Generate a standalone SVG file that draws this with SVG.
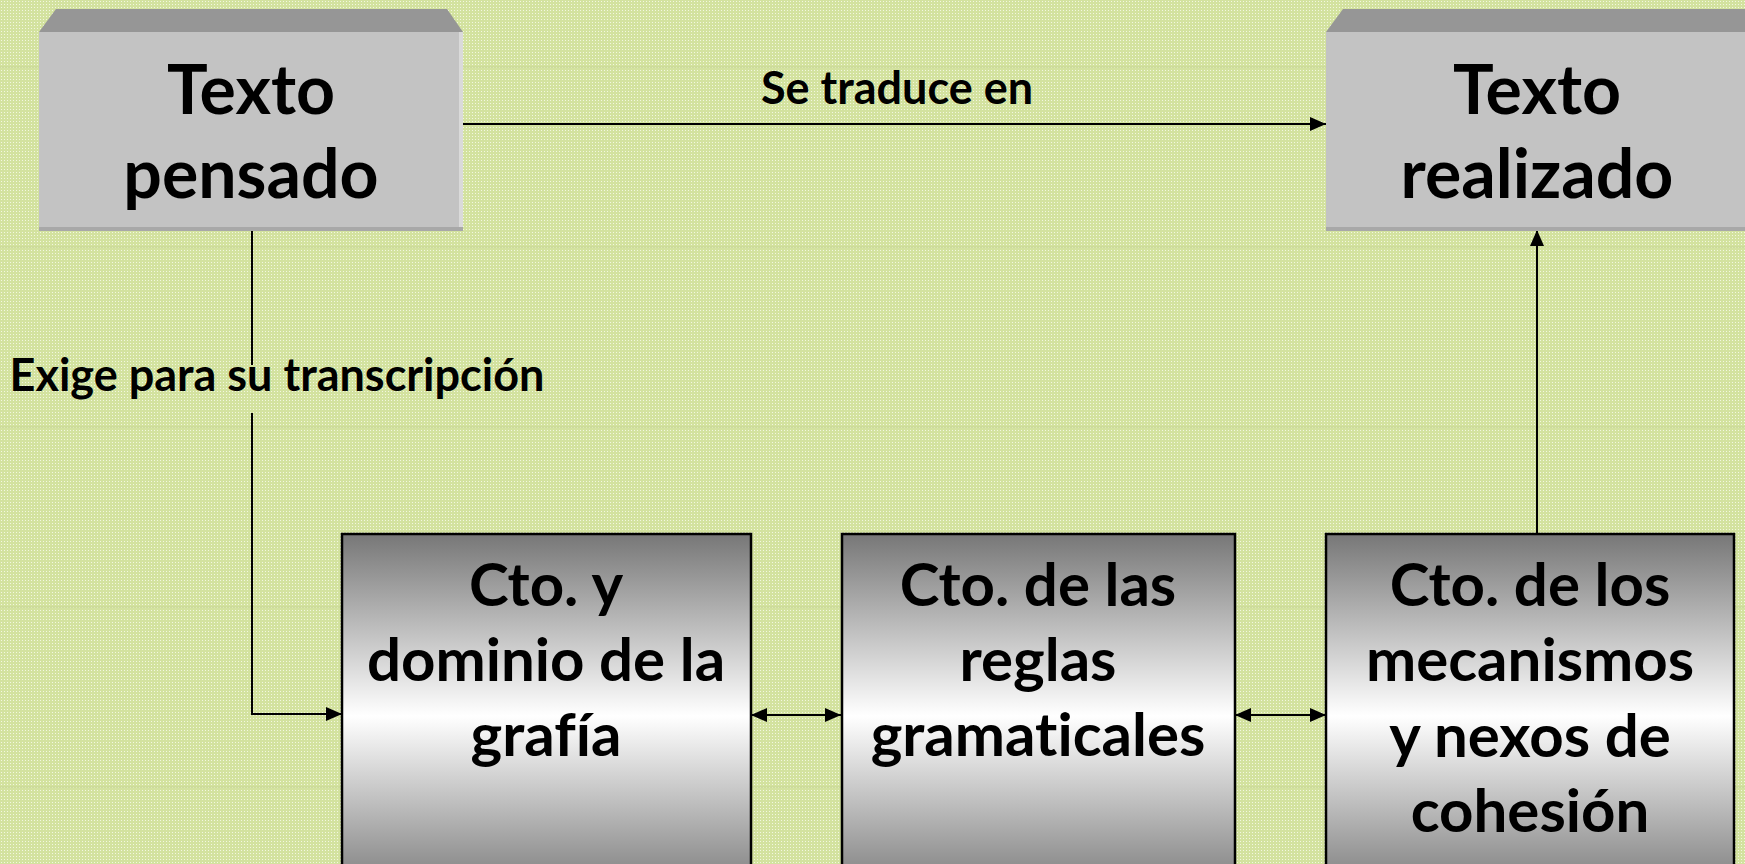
<svg xmlns="http://www.w3.org/2000/svg" width="1745" height="864" viewBox="0 0 1745 864">
<defs>
<pattern id="dots" width="3" height="3" patternUnits="userSpaceOnUse">
<rect width="3" height="3" fill="#d3e29f"/>
<rect x="1" y="1" width="1" height="1" fill="#f2f7e0"/>
</pattern>
<linearGradient id="metal" x1="0" y1="0" x2="0" y2="1">
<stop offset="0" stop-color="#777777"/>
<stop offset="0.5" stop-color="#ffffff"/>
<stop offset="1" stop-color="#777777"/>
</linearGradient>
<marker id="arr" viewBox="0 0 16 14" refX="16" refY="7" markerWidth="16" markerHeight="14" markerUnits="userSpaceOnUse" orient="auto-start-reverse">
<path d="M0,0 L16,7 L0,14 Z" fill="#000"/>
</marker>
</defs>
<style>
.t{font-family:Lato,"Open Sans","Liberation Sans",sans-serif;font-weight:bold;fill:#000;text-anchor:middle;font-variant-ligatures:none}
.big{font-size:68px}
.mid{font-size:60px}
.lab{font-size:45px}
.face{fill:#c3c3c3}
.bevel{fill:#969696}
.edge{fill:#a8a8a8}
.hl{fill:#dadada}
.bx{fill:url(#metal);stroke:#000;stroke-width:2.5}
.c{fill:none;stroke:#000;stroke-width:2}
.grid{stroke:#c6d693;stroke-width:1}
</style>
<rect width="1745" height="864" fill="url(#dots)"/>
<g id="grid">
<line class="grid" x1="0" y1="67" x2="1745" y2="67"/>
<line class="grid" x1="0" y1="247" x2="1745" y2="247"/>
<line class="grid" x1="0" y1="427" x2="1745" y2="427"/>
<line class="grid" x1="0" y1="607" x2="1745" y2="607"/>
<line class="grid" x1="0" y1="787" x2="1745" y2="787"/>
</g>
<g id="connectors">
<path class="c" d="M463,124 H1326" marker-end="url(#arr)"/>
<path class="c" d="M252,230 V365 M252,413 V714 H342" marker-end="url(#arr)"/>
<path class="c" d="M751,715 H841" marker-start="url(#arr)" marker-end="url(#arr)"/>
<path class="c" d="M1235,715 H1326" marker-start="url(#arr)" marker-end="url(#arr)"/>
<path class="c" d="M1537,533 V230" marker-end="url(#arr)"/>
</g>
<g id="texto-pensado">
<polygon class="bevel" points="39,32 56,9 447,9 463,32"/>
<rect class="face" x="39" y="32" width="424" height="198"/>
<rect class="hl" x="459" y="32" width="4" height="198"/>
<rect class="edge" x="39" y="227" width="424" height="4"/>
<text class="t big" x="251" y="114">Texto</text>
<text class="t big" x="251" y="198">pensado</text>
</g>
<g id="texto-realizado">
<polygon class="bevel" points="1326,32 1343,9 1745,9 1745,32"/>
<rect class="face" x="1326" y="32" width="424" height="198"/>
<rect class="edge" x="1326" y="227" width="424" height="4"/>
<text class="t big" x="1537" y="114">Texto</text>
<text class="t big" x="1537" y="198">realizado</text>
</g>
<g id="label-traduce">
<text class="t lab" x="897" y="104">Se traduce en</text>
</g>
<g id="label-exige">
<text class="t lab" x="277" y="391">Exige para su transcripción</text>
</g>
<g id="grafia">
<rect class="bx" x="342" y="534" width="409" height="364"/>
<text class="t mid" x="546" y="606">Cto. y</text>
<text class="t mid" x="546" y="681">dominio de la</text>
<text class="t mid" x="546" y="756">grafía</text>
</g>
<g id="reglas">
<rect class="bx" x="842" y="534" width="393" height="364"/>
<text class="t mid" x="1038" y="606">Cto. de las</text>
<text class="t mid" x="1038" y="681">reglas</text>
<text class="t mid" x="1038" y="756">gramaticales</text>
</g>
<g id="mecanismos">
<rect class="bx" x="1326" y="534" width="408" height="364"/>
<text class="t mid" x="1530" y="606">Cto. de los</text>
<text class="t mid" x="1530" y="681">mecanismos</text>
<text class="t mid" x="1530" y="757">y nexos de</text>
<text class="t mid" x="1530" y="832">cohesión</text>
</g>
</svg>
